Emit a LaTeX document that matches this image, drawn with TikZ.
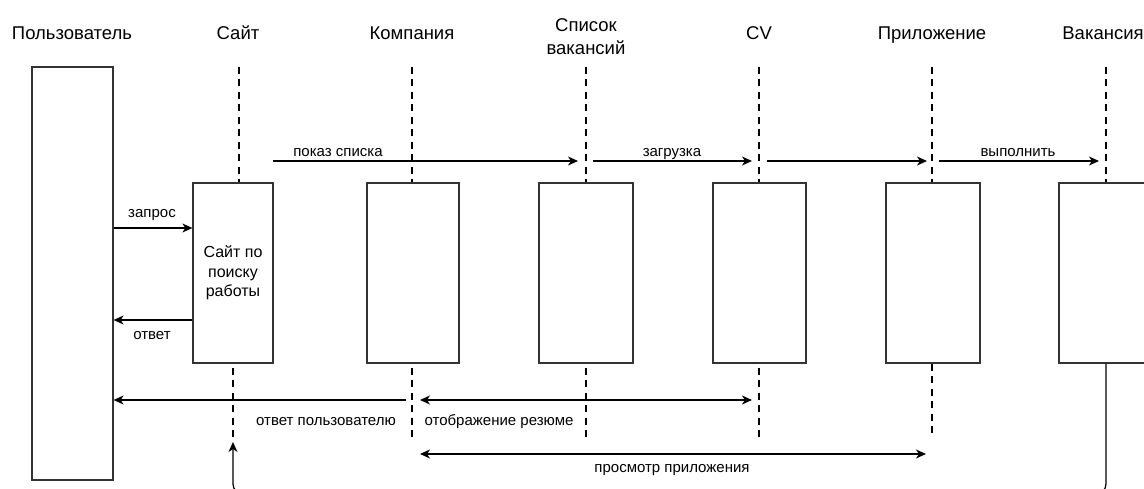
\documentclass[tikz,border=0pt]{standalone}
\usepackage{fontspec}
\setmainfont{Liberation Sans}
\usetikzlibrary{arrows.meta}

\begin{document}
\begin{tikzpicture}[x=1pt,y=-1pt,
    box/.style={draw=black!80,line width=1.2pt,fill=white,inner sep=0pt,minimum height=180pt,font=\fontsize{16}{19.5}\selectfont,align=center},
    title/.style={font=\fontsize{18.5}{23.5}\selectfont,inner sep=0pt,anchor=base,align=center},
    lbl/.style={font=\fontsize{15}{18}\selectfont,inner sep=0pt,anchor=base},
    lane/.style={line width=2.4pt,dash pattern=on 7pt off 5.5pt},
    lanelow/.style={lane,dash phase=8.5pt},
    post/.style={-{Stealth[length=10pt,width=9pt,inset=3pt]},line width=1.2pt},
    both/.style={{Stealth[length=10pt,width=9pt,inset=3pt]}-{Stealth[length=10pt,width=9pt,inset=3pt]},line width=1.2pt}
  ]
  \useasboundingbox (0,0) rectangle (1144,489);

  \node[title] (tuser) at (72,40) {Пользователь};
  \node[title] (tsite) at (238,40) {Сайт};
  \node[title] (tcomp) at (412,40) {Компания};
  \node[title,anchor=south] (tlist) at (586,55) {Список\\вакансий};
  \node[title] (tcv) at (759,40) {CV};
  \node[title] (tapp) at (932,40) {Приложение};
  \node[title] (tvac) at (1103,40) {Вакансия};

  \node[box,minimum width=81pt,minimum height=413pt] (user) at (72.5,273.5) {};
  \node[box,minimum width=80pt] (site) at (233,273) {Сайт по\\поиску\\работы};
  \node[box,minimum width=92pt] (comp) at (413,273) {};
  \node[box,minimum width=94pt] (list) at (586,273) {};
  \node[box,minimum width=93pt] (cv) at (759.5,273) {};
  \node[box,minimum width=94pt] (app) at (933,273) {};
  \node[box,minimum width=94pt] (vac) at (1106,273) {};

  \coordinate (sitetop) at (239,67);
  \coordinate (comptop) at (412,67);
  \coordinate (listtop) at (586,67);
  \coordinate (cvtop) at (759,67);
  \coordinate (apptop) at (932,67);
  \coordinate (vactop) at (1106,67);
  \draw[lane] (sitetop) -- (sitetop |- site.north);
  \draw[lane] (comptop) -- (comptop |- comp.north);
  \draw[lane] (listtop) -- (listtop |- list.north);
  \draw[lane] (cvtop) -- (cvtop |- cv.north);
  \draw[lane] (apptop) -- (apptop |- app.north);
  \draw[lane] (vactop) -- (vactop |- vac.north);

  \coordinate (siteend) at (233,440);
  \coordinate (compend) at (412,440);
  \coordinate (listend) at (586,440);
  \coordinate (cvend) at (759,440);
  \coordinate (append) at (932,437);
  \draw[lanelow] (siteend |- site.south) -- (siteend);
  \draw[lanelow] (compend |- comp.south) -- (compend);
  \draw[lanelow] (listend |- list.south) -- (listend);
  \draw[lanelow] (cvend |- cv.south) -- (cvend);
  \draw[lane] (append |- app.south) -- (append);

  \coordinate (show0) at (273,161);
  \coordinate (show1) at (578,161);
  \coordinate (load0) at (593,161);
  \coordinate (load1) at (752,161);
  \coordinate (pass0) at (767,161);
  \coordinate (pass1) at (927,161);
  \coordinate (run0) at (939,161);
  \coordinate (run1) at (1099,161);
  \draw[post] (show0) -- (show1);
  \draw[post] (load0) -- (load1);
  \draw[post] (pass0) -- (pass1);
  \draw[post] (run0) -- (run1);
  \node[lbl] (lshow) at (338,157) {показ списка};
  \node[lbl] (lload) at (672,157) {загрузка};
  \node[lbl] (lrun) at (1018,157) {выполнить};

  \coordinate (req) at (150,228);
  \coordinate (resp) at (150,320);
  \draw[post] (user.east |- req) -- (site.west |- req);
  \draw[post] (site.west |- resp) -- (user.east |- resp);
  \node[lbl] (lreq) at (152,218) {запрос};
  \node[lbl] (lresp) at (152,339) {ответ};

  \coordinate (back) at (406,400);
  \coordinate (cv0) at (420,400);
  \coordinate (cv1) at (752,400);
  \coordinate (view0) at (420,454);
  \coordinate (view1) at (926,454);
  \draw[post] (back) -- (user.east |- back);
  \draw[both] (cv0) -- (cv1);
  \draw[both] (view0) -- (view1);
  \node[lbl] (lback) at (326,425) {ответ пользователю};
  \node[lbl] (lcv) at (499,425) {отображение резюме};
  \node[lbl] (lview) at (672,472) {просмотр приложения};

  \coordinate (ret) at (233,442);
  \coordinate (low) at (0,494);
  \draw[post,rounded corners=10pt] (vac.south) -- (vac.south |- low) -- (ret |- low) -- (ret);
\end{tikzpicture}
\end{document}
